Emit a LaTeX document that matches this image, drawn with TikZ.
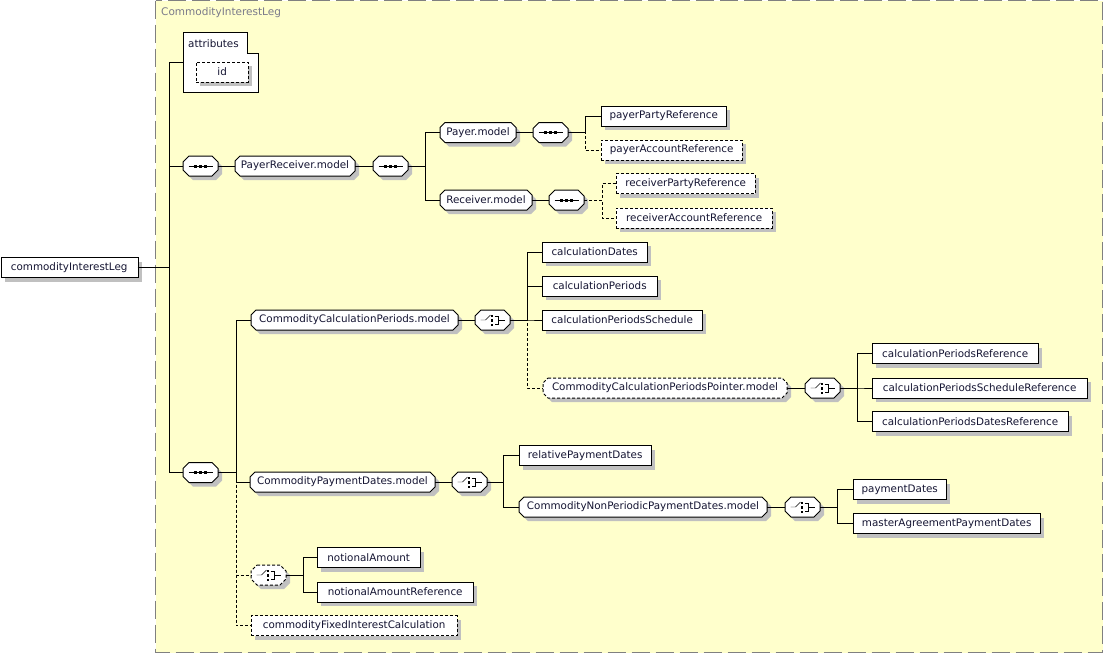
\documentclass[tikz,border=0pt]{standalone}
\usepackage{fontspec}
\setmainfont{DejaVu Sans}
\usepackage{xcolor}
\usetikzlibrary{shadows}
\definecolor{frameyellow}{HTML}{FFFFCC}
\definecolor{framegray}{HTML}{808080}
\definecolor{shadowgray}{HTML}{C0C0C0}
\definecolor{labelgray}{HTML}{7A7A8A}
\definecolor{nodetext}{HTML}{141432}
\pgfdeclarelayer{back}
\pgfsetlayers{back,main}
% octagon outline round a node: style, node, cut, dx, dy
\newcommand{\octdraw}[5]{%
  \path[line width=1pt, #1] ([xshift=#3+#4,yshift=#5]#2.north west) -- ([xshift=-#3+#4,yshift=#5]#2.north east)
    -- ([xshift=#4,yshift=-#3+#5]#2.north east) -- ([xshift=#4,yshift=#3+#5]#2.south east)
    -- ([xshift=-#3+#4,yshift=#5]#2.south east) -- ([xshift=#3+#4,yshift=#5]#2.south west)
    -- ([xshift=#4,yshift=#3+#5]#2.south west) -- ([xshift=#4,yshift=-#3+#5]#2.north west) -- cycle;}
\newcommand{\octagon}[3]{%
  \octdraw{fill=shadowgray}{#2}{#3}{4pt}{-4pt}
  \octdraw{draw=black, fill=white, #1}{#2}{#3}{0pt}{0pt}}
% compositor marks
\newcommand{\seqsym}[1]{%
  \draw (#1.center) ++(-12,0) -- ++(24,0);
  \foreach \dx in {-5,0,5} {\fill (#1.center) ++(\dx,0) ++(-1.5,-1.5) rectangle ++(3,3);}
}
\newcommand{\choicesym}[1]{%
  \draw (#1.center) ++(-12,0) -- ++(5,0) -- ++(5,-5);
  \fill (#1.center) ++(-2,-5.5) rectangle ++(2.5,2.5);
  \fill (#1.center) ++(-2,-1.5) rectangle ++(2.5,3);
  \fill (#1.center) ++(-2,3.5) rectangle ++(2.5,2.5);
  \draw (#1.center) ++(2,-4) -- ++(4,0) -- ++(0,8) -- ++(-4,0);
  \draw (#1.center) ++(6,0) -- ++(6,0);
}

\begin{document}
\begin{tikzpicture}[x=1pt, y=-1pt, line width=1pt, draw=black,
  every node/.style={font=\fontsize{10.35}{12}\selectfont, text=nodetext, inner sep=0pt, anchor=west},
  boxshadow/.style={general shadow={fill=shadowgray, draw=none, shadow xshift=4pt, shadow yshift=-4pt}},
  elem/.style={draw=black, fill=white, boxshadow, minimum height=20pt},
  model/.style={outer sep=0pt, minimum height=20pt},
  compositor/.style={outer sep=0pt, minimum width=35pt, minimum height=20pt},
  optional/.style={dash pattern=on 3pt off 2pt}]
\useasboundingbox (0,0) rectangle (1104,654);
% Frame
\begin{pgfonlayer}{back}
\draw[framegray, line width=1pt, fill=frameyellow, dash pattern=on 18pt off 6pt] (155.5,0.5) rectangle (1102.5,652.5);
\end{pgfonlayer}
\node[text=labelgray, font=\fontsize{10.5}{12}\selectfont] (title) at (161,13) {CommodityInterestLeg};
% Attributes
\node[outer sep=0pt, minimum width=75pt, minimum height=60pt] (attrs) at (183.5,62.5) {};
\draw[draw=black, fill=white] (attrs.north west) -- ++(64,0) -- ++(0,21) -- ++(11,0) -- (attrs.south east) -- (attrs.south west) -- cycle;
\node (attrsLabel) at (188,43.5) {attributes};
\node[elem, optional, minimum width=52pt] (id) at (196,72) {id};
% Elements
\node[elem, minimum width=137pt] (root) at (0.5,267.5) {commodityInterestLeg};
\node[elem, minimum width=125pt] (payerParty) at (601,116) {payerPartyReference};
\node[elem, optional, minimum width=141pt] (payerAccount) at (601,150) {payerAccountReference};
\node[elem, optional, minimum width=139pt] (receiverParty) at (616,183.5) {receiverPartyReference};
\node[elem, optional, minimum width=156pt] (receiverAccount) at (616,218) {receiverAccountReference};
\node[elem, minimum width=105pt] (calcDates) at (542,252) {calculationDates};
\node[elem, minimum width=115pt] (calcPeriods) at (542,286) {calculationPeriods};
\node[elem, minimum width=160pt] (calcSchedule) at (542,320) {calculationPeriodsSchedule};
\node[elem, minimum width=166pt] (periodsRef) at (872,353.5) {calculationPeriodsReference};
\node[elem, minimum width=215pt] (scheduleRef) at (872,388) {calculationPeriodsScheduleReference};
\node[elem, minimum width=196pt] (datesRef) at (872,421.5) {calculationPeriodsDatesReference};
\node[elem, minimum width=132pt] (relPayDates) at (519,455.5) {relativePaymentDates};
\node[elem, minimum width=93pt] (payDates) at (853,489.5) {paymentDates};
\node[elem, minimum width=187pt] (masterPayDates) at (853,523.5) {masterAgreementPaymentDates};
\node[elem, minimum width=103pt] (notionalAmt) at (317,557.5) {notionalAmount};
\node[elem, minimum width=156pt] (notionalRef) at (317,592) {notionalAmountReference};
\node[elem, optional, minimum width=206pt] (fixedCalc) at (251,625.5) {commodityFixedInterestCalculation};
% Model groups
\node[model, minimum width=120pt] (prModel) at (235,166) {PayerReceiver.model};
\node[model, minimum width=76pt] (payerModel) at (440,132.5) {Payer.model};
\node[model, minimum width=92pt] (receiverModel) at (440,200) {Receiver.model};
\node[model, minimum width=207pt] (ccpModel) at (251,320) {CommodityCalculationPeriods.model};
\node[model, minimum width=244pt] (pointerModel) at (543,388) {CommodityCalculationPeriodsPointer.model};
\node[model, minimum width=185pt] (cpdModel) at (250,482) {CommodityPaymentDates.model};
\node[model, minimum width=248pt] (nonPerModel) at (519,507) {CommodityNonPeriodicPaymentDates.model};
% Compositors
\node[compositor] (seqTop) at (183,166) {};
\node[compositor] (seqPR) at (373,166) {};
\node[compositor] (seqPayer) at (533,132.5) {};
\node[compositor] (seqReceiver) at (549,200) {};
\node[compositor] (seqMain) at (183,472.5) {};
\node[compositor] (choiceCcp) at (475,320) {};
\node[compositor] (choicePtr) at (805,388) {};
\node[compositor] (choiceCpd) at (452,482) {};
\node[compositor] (choiceNonPer) at (785,507) {};
\node[compositor] (choiceNotional) at (251,575) {};
\begin{pgfonlayer}{back}
\foreach \n in {prModel, payerModel, receiverModel, ccpModel, cpdModel, nonPerModel} {\octagon{}{\n}{5pt}}
\octagon{optional}{pointerModel}{5pt}
\foreach \n in {seqTop, seqPR, seqPayer, seqReceiver, seqMain, choiceCcp, choicePtr, choiceCpd, choiceNonPer} {\octagon{}{\n}{6pt}}
\octagon{optional}{choiceNotional}{6pt}
\end{pgfonlayer}
\foreach \n in {seqTop, seqPR, seqPayer, seqReceiver, seqMain} {\seqsym{\n}}
\foreach \n in {choiceCcp, choicePtr, choiceCpd, choiceNonPer, choiceNotional} {\choicesym{\n}}
% Connectors
\foreach \c in {attrs, seqTop, seqMain} \draw (root.east) -- ++(31,0) |- (\c.west);
\draw (seqTop.east) -- (prModel.west);
\draw (prModel.east) -- (seqPR.west);
\foreach \c in {payerModel, receiverModel} \draw (seqPR.east) -- ++(17,0) |- (\c.west);
\draw (payerModel.east) -- (seqPayer.west);
\draw (seqPayer.east) -- ++(17,0) |- (payerParty.west);
\draw[optional] (seqPayer.east) -- ++(17,0) |- (payerAccount.west);
\draw (receiverModel.east) -- (seqReceiver.west);
\foreach \c in {receiverParty, receiverAccount} \draw[optional] (seqReceiver.east) -- ++(18,0) |- (\c.west);
\foreach \c in {ccpModel, cpdModel} \draw (seqMain.east) -- ++(18,0) |- (\c.west);
\foreach \c in {choiceNotional, fixedCalc} \draw[optional] (seqMain.east) -- ++(18,0) |- (\c.west);
\draw (ccpModel.east) -- (choiceCcp.west);
\foreach \c in {calcDates, calcPeriods, calcSchedule} \draw (choiceCcp.east) -- ++(17,0) |- (\c.west);
\draw[optional] (choiceCcp.east) -- ++(17,0) |- (pointerModel.west);
\draw (pointerModel.east) -- (choicePtr.west);
\foreach \c in {periodsRef, scheduleRef, datesRef} \draw (choicePtr.east) -- ++(17,0) |- (\c.west);
\draw (cpdModel.east) -- (choiceCpd.west);
\foreach \c in {relPayDates, nonPerModel} \draw (choiceCpd.east) -- ++(16,0) |- (\c.west);
\draw (nonPerModel.east) -- (choiceNonPer.west);
\foreach \c in {payDates, masterPayDates} \draw (choiceNonPer.east) -- ++(17,0) |- (\c.west);
\foreach \c in {notionalAmt, notionalRef} \draw (choiceNotional.east) -- ++(17,0) |- (\c.west);
\end{tikzpicture}
\end{document}
